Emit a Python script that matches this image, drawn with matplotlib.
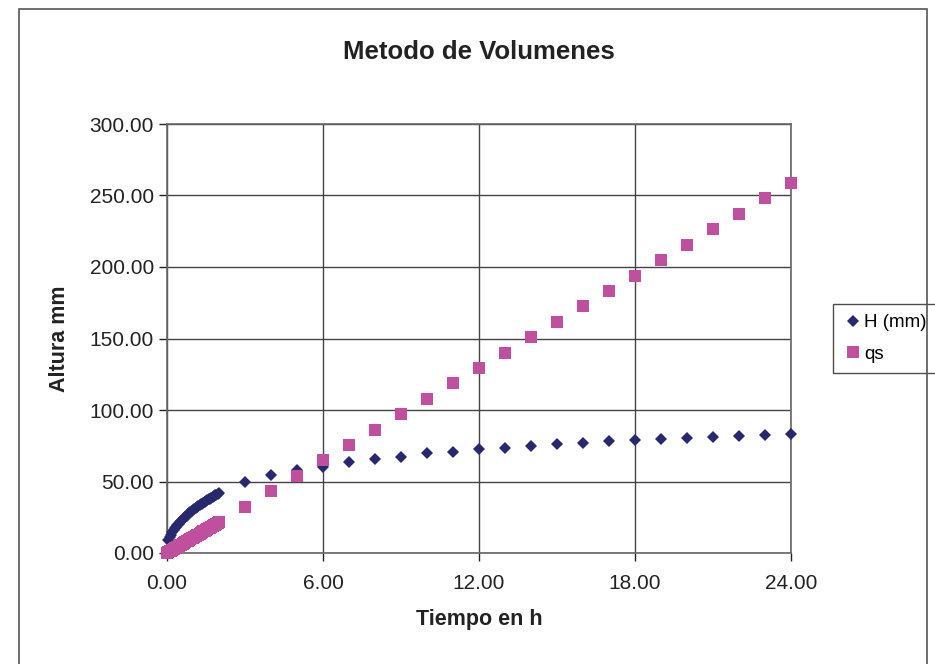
import matplotlib.pyplot as plt
from matplotlib.patches import Rectangle

plt.rcParams['font.family'] = ['Liberation Sans', 'DejaVu Sans']

# tiempo (h) y valores
t_fino = [0.05, 0.10, 0.15, 0.20, 0.25, 0.30, 0.35, 0.40, 0.45, 0.50,
          0.55, 0.60, 0.65, 0.70, 0.75, 0.80, 0.85, 0.90, 0.95, 1.00,
          1.05, 1.10, 1.15, 1.20, 1.25, 1.30, 1.35, 1.40, 1.45, 1.50,
          1.55, 1.60, 1.65, 1.70, 1.75, 1.80, 1.85, 1.90, 1.95, 2.00]
h_fino = [9.0, 11.0, 12.8, 14.5, 15.9, 17.2, 18.4, 19.6, 20.6, 21.6,
          22.6, 23.5, 24.4, 25.3, 26.2, 27.0, 27.8, 28.6, 29.3, 30.0,
          30.7, 31.4, 32.1, 32.7, 33.4, 34.0, 34.6, 35.2, 35.8, 36.4,
          37.0, 37.5, 38.1, 38.6, 39.2, 39.7, 40.3, 40.8, 41.4, 42.0]
qs_fino = [0.5, 1.1, 1.6, 2.2, 2.7, 3.2, 3.8, 4.3, 4.9, 5.4,
           5.9, 6.5, 7.0, 7.5, 8.1, 8.6, 9.2, 9.7, 10.2, 10.8,
           11.3, 11.9, 12.4, 12.9, 13.5, 14.0, 14.6, 15.1, 15.6, 16.2,
           16.7, 17.2, 17.8, 18.3, 18.9, 19.4, 19.9, 20.5, 21.0, 21.6]

t_horas = [3, 4, 5, 6, 7, 8, 9, 10, 11, 12, 13, 14,
           15, 16, 17, 18, 19, 20, 21, 22, 23, 24]
h_horas = [49.9, 54.3, 58.0, 60.4, 63.6, 65.5, 67.4, 69.7, 70.9, 72.5, 73.7, 74.8,
           76.2, 77.2, 78.1, 78.8, 79.7, 80.4, 81.1, 81.8, 82.5, 83.2]
qs_horas = [32.3, 43.1, 53.9, 64.7, 75.5, 86.2, 97.0, 107.8, 118.6, 129.4, 140.1, 150.9,
            161.7, 172.5, 183.3, 194.0, 204.8, 215.6, 226.4, 237.2, 248.0, 258.7]

t = [0.0] + t_fino + t_horas
h = [0.0] + h_fino + h_horas
qs = [0.0] + qs_fino + qs_horas

navy = '#28286e'
rosa = '#c0509d'

fig = plt.figure(figsize=(9.35, 6.64), dpi=100)
fig.patches.append(Rectangle((19 / 935, -0.05), (927 - 19) / 935, 1.05 - 9 / 664,
                             transform=fig.transFigure, fill=False,
                             edgecolor='#555555', linewidth=1.2))

ax = fig.add_axes([167 / 935, (664 - 553) / 664, 624 / 935, 429 / 664])
ax.plot(t[1:], h[1:], linestyle='none', marker='D', markersize=6.6,
        markeredgewidth=0, color=navy, label='H (mm)', clip_on=False, zorder=3)
ax.plot(t, qs, linestyle='none', marker='s', markersize=8.4,
        markeredgewidth=0, color=rosa, label='qs', clip_on=False, zorder=4)

ax.set_xlim(0, 24)
ax.set_ylim(0, 300)
ax.set_xticks([0, 6, 12, 18, 24])
ax.set_yticks([0, 50, 100, 150, 200, 250, 300])
ax.set_xticklabels(['0.00', '6.00', '12.00', '18.00', '24.00'])
ax.set_yticklabels(['0.00', '50.00', '100.00', '150.00', '200.00', '250.00', '300.00'])
ax.tick_params(labelsize=15, colors='#222222', length=6, width=1, direction='out')
ax.tick_params(axis='x', pad=9)
ax.grid(True, color='#444444', linewidth=1)
ax.set_axisbelow(True)
for s in ax.spines.values():
    s.set_color('#666666')
    s.set_linewidth(1.2)

ax.set_title('Metodo de Volumenes', fontsize=18.5, fontweight='bold', pad=47, color='#222222')
ax.set_xlabel('Tiempo en h', fontsize=15.5, fontweight='bold', labelpad=12, color='#222222')
ax.set_ylabel('Altura mm', fontsize=15.5, fontweight='bold', labelpad=14, color='#222222')

leg = ax.legend(loc='upper left', bbox_to_anchor=(833 / 935, (664 - 304) / 664),
                bbox_transform=fig.transFigure, frameon=True, fancybox=False,
                fontsize=13.5, handletextpad=0.1, handlelength=1.0,
                borderpad=0.55, labelspacing=0.75, borderaxespad=0)
leg.get_frame().set_edgecolor('#222222')
leg.get_frame().set_linewidth(1)

fig.savefig('out.png', dpi=100)
